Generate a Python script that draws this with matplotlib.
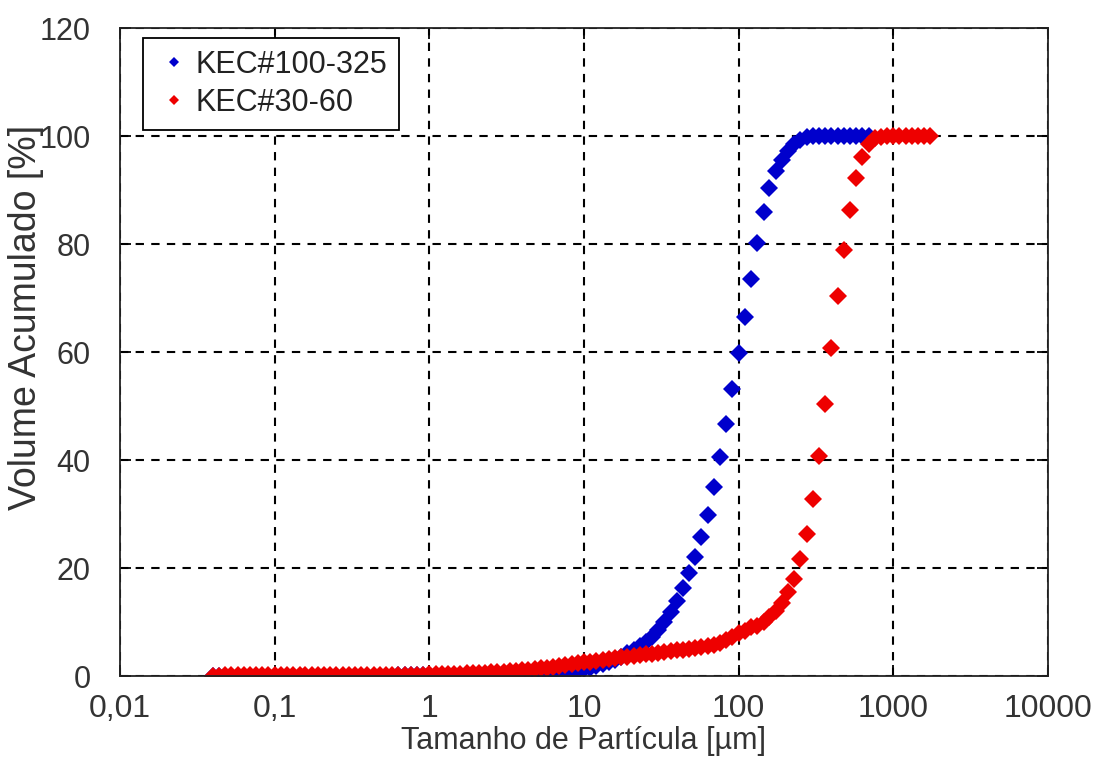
import matplotlib
matplotlib.use('Agg')
import matplotlib.pyplot as plt
from matplotlib.ticker import FixedLocator, FixedFormatter, NullLocator

plt.rcParams['font.family'] = ['Liberation Sans', 'DejaVu Sans']

# size classes [um], shared by both samples
size_um = [
    0.0398, 0.0437, 0.0479, 0.0525, 0.0575, 0.0631, 0.0692, 0.0759, 0.0832, 0.0912,
    0.100, 0.110, 0.120, 0.132, 0.145, 0.158, 0.174, 0.191, 0.209, 0.229, 0.251, 0.275, 0.302,
    0.331, 0.363, 0.398, 0.437, 0.479, 0.525, 0.575, 0.631, 0.692, 0.759, 0.832, 0.912,
    1.00, 1.10, 1.20, 1.32, 1.45, 1.58, 1.74, 1.91, 2.09, 2.29, 2.51, 2.75, 3.02,
    3.31, 3.63, 3.98, 4.37, 4.79, 5.25, 5.75, 6.31, 6.92, 7.59, 8.32, 9.12,
    10.0, 11.0, 12.0, 13.2, 14.5, 15.8, 17.4, 19.1, 20.9, 22.9, 25.1, 27.5, 30.2,
    33.1, 36.3, 39.8, 43.7, 47.9, 52.5, 57.5, 63.1, 69.2, 75.9, 83.2, 91.2,
    100, 110, 120, 132, 145, 158, 174, 191, 209, 229, 251, 275, 302,
    331, 363, 398, 437, 479, 525, 575, 631, 692, 759, 832, 912,
    1000, 1096, 1202, 1318, 1445, 1585, 1738,
]

# KEC#100-325 cumulative volume [%] (ends at 692 um)
kec_100_325 = [
    0.05, 0.05, 0.05, 0.05, 0.05, 0.05, 0.05, 0.06, 0.06, 0.06,
    0.06, 0.06, 0.06, 0.07, 0.07, 0.07, 0.07, 0.07, 0.08, 0.08, 0.08, 0.08, 0.08,
    0.08, 0.09, 0.09, 0.09, 0.09, 0.09, 0.09, 0.1, 0.1, 0.1, 0.1, 0.1,
    0.1, 0.1, 0.1, 0.1, 0.1, 0.1, 0.1, 0.1, 0.11, 0.12, 0.13, 0.15, 0.17,
    0.2, 0.23, 0.26, 0.3, 0.35, 0.4, 0.47, 0.55, 0.65, 0.75, 0.87, 1.0,
    1.25, 1.55, 1.85, 2.2, 2.6, 3.0, 3.5, 4.2, 4.8, 5.5, 6.3, 7.3, 8.5,
    10.0, 11.8, 13.9, 16.3, 19.0, 22.1, 25.7, 29.8, 35.0, 40.6, 46.7, 53.1,
    59.8, 66.5, 73.5, 80.2, 85.9, 90.4, 93.5, 95.6, 97.3, 98.5, 99.3, 99.8, 100,
    100, 100, 100, 100, 100, 100, 100, 100, 100,
]

# KEC#30-60 cumulative volume [%]
kec_30_60 = [
    0.05, 0.08, 0.1, 0.12, 0.13, 0.14, 0.15, 0.16, 0.17, 0.18,
    0.18, 0.19, 0.19, 0.2, 0.2, 0.2, 0.21, 0.21, 0.21, 0.22, 0.22, 0.22, 0.22,
    0.23, 0.23, 0.23, 0.24, 0.24, 0.24, 0.25, 0.25, 0.26, 0.26, 0.27, 0.28,
    0.3, 0.32, 0.35, 0.38, 0.41, 0.45, 0.49, 0.53, 0.58, 0.63, 0.69, 0.75, 0.82,
    0.9, 0.98, 1.07, 1.17, 1.28, 1.4, 1.53, 1.67, 1.82, 1.98, 2.15, 2.33,
    2.52, 2.68, 2.84, 3.0, 3.15, 3.3, 3.44, 3.58, 3.72, 3.86, 4.0, 4.14, 4.3,
    4.45, 4.6, 4.75, 4.9, 5.05, 5.2, 5.35, 5.55, 5.8, 6.1, 6.6, 7.2,
    7.9, 8.4, 9.0, 9.3, 10.0, 10.9, 12.0, 13.5, 15.6, 18.0, 21.7, 26.3, 32.8,
    40.7, 50.4, 60.7, 70.4, 78.9, 86.3, 92.2, 96.1, 98.6, 99.6, 99.9, 100,
    100, 100, 100, 100, 100, 100, 100,
]

x_ticks = [0.01, 0.1, 1, 10, 100, 1000, 10000]
x_labels = ['0,01', '0,1', '1', '10', '100', '1000', '10000']
y_ticks = [0, 20, 40, 60, 80, 100, 120]

fig = plt.figure(figsize=(10.97, 7.6), dpi=100)
ax = fig.add_axes([0.1094, 0.1105, 0.8459, 0.8525])

ax.plot(size_um[:len(kec_100_325)], kec_100_325, 'D', color='#0000cc',
        markersize=9, markeredgewidth=0, label='KEC#100-325')
ax.plot(size_um[:len(kec_30_60)], kec_30_60, 'D', color='#ee0000',
        markersize=9, markeredgewidth=0, label='KEC#30-60')

ax.set_xscale('log')
ax.set_xlim(0.01, 10000)
ax.set_ylim(0, 120)
ax.xaxis.set_major_locator(FixedLocator(x_ticks))
ax.xaxis.set_major_formatter(FixedFormatter(x_labels))
ax.xaxis.set_minor_locator(NullLocator())
ax.set_yticks(y_ticks)

ax.grid(True, color='black', linestyle=(0, (4, 3.5)), linewidth=1.5)
ax.tick_params(direction='in', top=True, right=True, length=8, width=1.3,
               labelsize=23, labelcolor='#333333')
ax.tick_params(axis='x', pad=13)
ax.tick_params(axis='y', pad=21, labelsize=22)
for s in ax.spines.values():
    s.set_linewidth(1.3)
    s.set_color('#222222')

ax.set_xlabel('Tamanho de Partícula [µm]', fontsize=22, color='#333333')
ax.xaxis.set_label_coords(0.5, -0.077)
ax.set_ylabel('Volume Acumulado [%]', fontsize=27, color='#333333')
ax.yaxis.set_label_coords(-0.082, 0.554)

leg = ax.legend(loc='upper left', bbox_to_anchor=(0.025, 0.985), fontsize=22,
                fancybox=False, framealpha=1, edgecolor='black',
                handletextpad=0.1, handlelength=1.2, markerscale=0.6,
                borderpad=0.4, labelspacing=0.25, borderaxespad=0)
leg.get_frame().set_linewidth(1.3)
for t in leg.get_texts():
    t.set_color('#222222')

fig.savefig('out.png', dpi=100)
